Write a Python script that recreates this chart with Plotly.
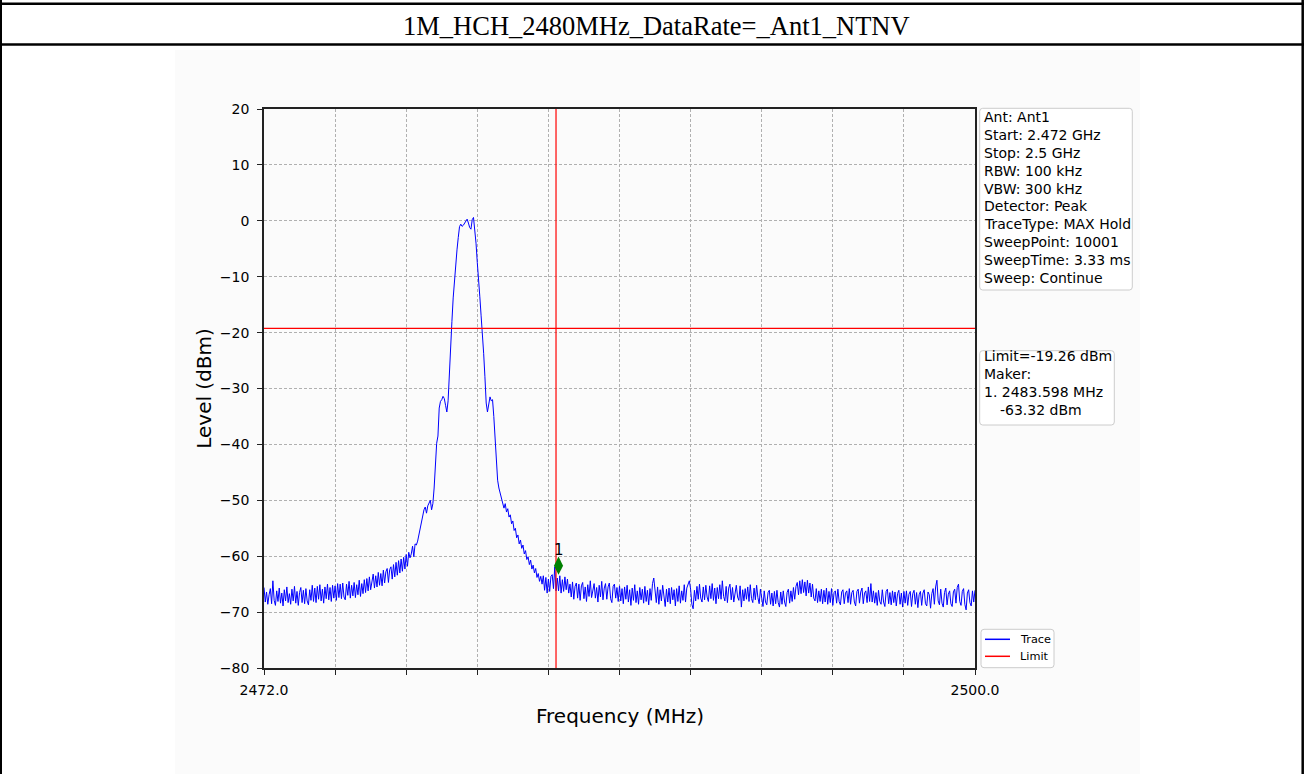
import numpy as np
import plotly.graph_objects as go

W, H = 1310, 774

# ---------------- data ----------------
START_MHZ = 2472.0
STOP_MHZ = 2500.0
LEVEL_DBM = [
    -65.6, -68.2, -66.4, -68.6, -66.9, -65.8, -68.5, -64.4, -67.9, -68.8, -66.2, -68.1, -65.7, -68.4, -66.6, -68.9, -66.0, -68.0, -65.5, -68.3,
    -66.7, -68.6, -65.9, -68.0, -65.4, -68.4, -66.3, -68.8, -66.5, -65.6, -68.3, -66.1, -68.5, -65.8, -68.0, -68.7, -66.0, -67.9, -65.2, -68.1,
    -65.7, -68.3, -65.4, -67.7, -65.1, -68.0, -65.9, -68.4, -65.5, -67.6, -65.0, -67.8, -65.6, -68.1, -65.2, -67.5, -65.3, -67.9, -64.9, -67.4,
    -65.0, -67.6, -64.8, -67.3, -67.8, -65.0, -67.0, -64.5, -67.5, -65.2, -67.1, -64.7, -67.4, -65.1, -66.9, -64.3, -67.2, -64.9, -66.7, -64.2,
    -66.5, -64.0, -66.2, -63.7, -66.0, -64.2, -63.2, -65.7, -63.5, -65.5, -62.9, -65.2, -63.1, -65.3, -62.5, -64.8, -62.8, -62.2, -64.7, -62.4,
    -61.9, -64.1, -61.5, -63.7, -61.1, -63.4, -60.8, -63.0, -60.5, -62.7, -60.2, -62.3, -59.7, -61.8, -59.3, -60.3, -59.6, -58.2, -60.1, -57.8,
    -58.0, -57.3, -56.2, -55.3, -53.8, -53.0, -51.7, -51.2, -52.3, -51.0, -50.6, -50.0, -51.7, -50.6, -47.8, -43.4, -39.8, -38.5, -33.5, -32.3,
    -32.0, -31.4, -31.8, -33.0, -34.2, -32.2, -26.5, -21.5, -18.0, -13.8, -10.5, -7.5, -5.2, -3.0, -1.05, -0.6, -1.0, -0.8, -0.5, 0.0,
    0.3, -0.4, -1.2, -1.5, 0.2, 0.6, -1.6, -4.0, -7.5, -10.0, -13.6, -17.0, -20.0, -23.7, -27.9, -32.6, -34.2, -32.6, -31.5, -32.2,
    -32.0, -35.0, -39.2, -43.0, -46.4, -47.8, -48.8, -50.0, -50.8, -51.4, -50.6, -52.1, -51.5, -53.0, -52.6, -54.2, -53.7, -55.4, -55.0, -56.7,
    -56.2, -57.8, -57.1, -58.6, -58.0, -59.6, -59.0, -60.6, -60.1, -61.5, -60.7, -62.3, -61.6, -63.0, -62.2, -63.8, -63.1, -64.5, -63.6, -65.0,
    -63.5, -66.1, -63.8, -66.6, -64.1, -66.3, -63.6, -63.3, -65.8, -61.9, -66.2, -63.9, -66.2, -63.5, -66.6, -64.2, -66.3, -63.7, -66.0, -64.1,
    -66.6, -65.0, -67.3, -64.6, -67.7, -65.4, -64.8, -67.5, -65.0, -67.9, -65.3, -64.7, -67.6, -65.5, -68.1, -65.1, -67.2, -64.4, -67.4, -66.0,
    -64.9, -67.5, -65.6, -68.2, -65.2, -67.3, -64.5, -67.8, -65.7, -64.9, -67.7, -65.5, -64.8, -67.6, -68.3, -65.4, -65.0, -67.5, -65.6, -68.1,
    -65.3, -68.0, -65.8, -68.5, -65.5, -67.7, -65.2, -68.2, -66.0, -68.8, -65.7, -67.9, -65.1, -68.3, -66.2, -68.6, -65.6, -67.8, -65.9, -68.4,
    -65.4, -68.1, -66.1, -68.7, -65.8, -67.9, -64.9, -63.9, -66.2, -68.3, -65.5, -68.6, -66.0, -68.0, -65.2, -67.7, -69.0, -65.9, -68.2, -65.7,
    -68.5, -65.6, -67.8, -66.0, -68.9, -65.8, -68.1, -65.3, -68.4, -66.2, -67.9, -65.1, -68.2, -65.7, -64.8, -64.4, -65.9, -68.6, -69.4, -66.1,
    -68.0, -65.4, -67.7, -65.0, -67.5, -68.2, -65.5, -67.8, -65.2, -67.3, -68.1, -65.3, -67.6, -64.9, -67.9, -65.7, -68.5, -65.6, -67.6, -65.1,
    -67.7, -64.4, -67.2, -68.0, -65.4, -68.3, -65.7, -65.0, -67.8, -65.6, -68.2, -66.1, -65.2, -67.3, -67.9, -65.3, -69.1, -66.0, -68.0, -65.8,
    -67.7, -65.5, -68.1, -65.1, -67.6, -68.3, -65.7, -67.8, -65.2, -67.4, -68.5, -65.9, -68.0, -69.0, -66.2, -68.2, -68.7, -66.5, -66.1, -68.6,
    -66.6, -68.9, -66.3, -68.5, -66.1, -68.3, -69.1, -66.4, -68.6, -66.2, -68.2, -69.0, -66.5, -65.9, -68.4, -66.2, -68.1, -65.6, -67.7, -65.4,
    -64.7, -66.9, -64.4, -66.7, -64.2, -66.5, -64.6, -67.1, -64.3, -66.6, -64.8, -67.3, -65.0, -67.5, -68.0, -65.8, -68.3, -66.2, -68.1, -65.9,
    -68.5, -66.1, -68.2, -65.7, -68.6, -66.3, -68.3, -65.8, -68.8, -66.5, -66.2, -68.4, -65.9, -68.1, -68.7, -66.4, -66.0, -68.5, -66.6, -66.2,
    -68.3, -65.8, -68.6, -66.5, -66.1, -68.2, -68.9, -66.3, -65.9, -68.4, -66.4, -65.7, -68.5, -66.6, -66.2, -68.3, -65.5, -68.1, -64.9, -68.2,
    -66.2, -68.4, -66.5, -68.8, -66.1, -68.1, -68.6, -66.0, -68.2, -69.0, -66.3, -65.9, -68.5, -66.5, -68.7, -66.2, -68.3, -66.4, -68.9, -66.7,
    -66.1, -68.6, -66.6, -69.1, -66.3, -68.4, -66.2, -68.8, -66.8, -66.3, -69.0, -66.7, -66.1, -68.6, -66.5, -69.2, -66.9, -66.3, -68.8, -66.6,
    -66.0, -68.5, -68.9, -66.4, -66.9, -69.3, -66.7, -65.8, -68.6, -65.5, -64.3, -68.0, -68.7, -65.9, -68.4, -69.1, -66.5, -65.7, -68.7, -66.8,
    -66.2, -68.5, -69.0, -66.4, -65.9, -68.4, -65.6, -65.0, -68.1, -68.8, -66.3, -65.8, -68.6, -69.6, -66.6, -66.0, -68.3, -68.9, -66.2, -68.2,
    -66.1,
]
LIMIT_DBM = -19.26
EDGE_MHZ = 2483.5
MARKER_MHZ = 2483.598
MARKER_DBM = -61.7

X_TICKS = [2472.0, 2474.8, 2477.6, 2480.4, 2483.2, 2486.0, 2488.8, 2491.6, 2494.4, 2497.2, 2500.0]
X_TICK_TEXT = ["2472.0", "", "", "", "", "", "", "", "", "", "2500.0"]
Y_TICKS = [20, 10, 0, -10, -20, -30, -40, -50, -60, -70, -80]
Y_TICK_TEXT = ["20", "10", "0", "\u221210", "\u221220", "\u221230", "\u221240",
               "\u221250", "\u221260", "\u221270", "\u221280"]

TITLE = "1M_HCH_2480MHz_DataRate=_Ant1_NTNV"
INFO_LINES = ["Ant: Ant1", "Start: 2.472 GHz", "Stop: 2.5 GHz", "RBW: 100 kHz",
              "VBW: 300 kHz", "Detector: Peak", "TraceType: MAX Hold",
              "SweepPoint: 10001", "SweepTime: 3.33 ms", "Sweep: Continue"]
MARK_LINES = ["Limit=-19.26 dBm", "Maker:", "1. 2483.598 MHz", "-63.32 dBm"]
LEGEND_NAMES = ["Trace", "Limit"]

freq = np.linspace(START_MHZ, STOP_MHZ, len(LEVEL_DBM))

# ---------------- helpers (pixel -> paper) ----------------
def px(x):
    return x / W

def py(y):
    return 1 - y / H

def rrect(x0, y0, x1, y1, r, color="#cccccc", fill="white"):
    p = (f"M {px(x0 + r)},{py(y0)} L {px(x1 - r)},{py(y0)} Q {px(x1)},{py(y0)} {px(x1)},{py(y0 + r)} "
         f"L {px(x1)},{py(y1 - r)} Q {px(x1)},{py(y1)} {px(x1 - r)},{py(y1)} "
         f"L {px(x0 + r)},{py(y1)} Q {px(x0)},{py(y1)} {px(x0)},{py(y1 - r)} "
         f"L {px(x0)},{py(y0 + r)} Q {px(x0)},{py(y0)} {px(x0 + r)},{py(y0)} Z")
    return dict(type="path", path=p, xref="paper", yref="paper",
                line=dict(color=color, width=1), fillcolor=fill, layer="above")

def hline(x0, x1, y, color, width):
    return dict(type="line", xref="paper", yref="paper", x0=px(x0), x1=px(x1),
                y0=py(y), y1=py(y), line=dict(color=color, width=width))

def vline(x, y0, y1, color, width):
    return dict(type="line", xref="paper", yref="paper", x0=px(x), x1=px(x),
                y0=py(y0), y1=py(y1), line=dict(color=color, width=width))

SANS = "DejaVu Sans"
TXT = "#000000"

fig = go.Figure()
fig.add_trace(go.Scatter(x=freq, y=LEVEL_DBM, mode="lines", name=LEGEND_NAMES[0],
                         line=dict(color="#0000ff", width=1), showlegend=False))
fig.add_trace(go.Scatter(x=[START_MHZ, STOP_MHZ], y=[LIMIT_DBM, LIMIT_DBM], mode="lines",
                         name=LEGEND_NAMES[1], line=dict(color="#ff0000", width=1.2), showlegend=False))
fig.add_trace(go.Scatter(x=[EDGE_MHZ, EDGE_MHZ], y=[Y_TICKS[-1], Y_TICKS[0]], mode="lines",
                         line=dict(color="#ff0000", width=1.2), showlegend=False))
fig.add_trace(go.Scatter(x=[MARKER_MHZ], y=[MARKER_DBM], mode="markers",
                         marker=dict(symbol="diamond-tall", size=13, color="#008000",
                                     line=dict(width=0)), showlegend=False))

shapes = [
    dict(type="rect", xref="paper", yref="paper", x0=px(175), x1=px(1140), y0=py(50), y1=0,
         fillcolor="#fbfbfb", line=dict(width=0), layer="below"),
    hline(0, 1304, 3.7, "#000000", 2.5),
    hline(0, 1304, 44.5, "#000000", 2.5),
    vline(1, 0, 774, "#000000", 2),
    vline(1302.7, 0, 774, "#000000", 2.5),
    rrect(979.7, 108.3, 1132.3, 290, 3),
    rrect(979.7, 350.7, 1114.3, 425, 3),
    rrect(981, 629.3, 1054, 667.7, 3),
    hline(985, 1010, 639.3, "#0000ff", 1.5),
    hline(985, 1010, 656.3, "#ff0000", 1.5),
]

ann = []
ann.append(dict(text=TITLE, x=px(656.5), y=py(26), xref="paper", yref="paper",
                xanchor="center", yanchor="middle", showarrow=False,
                font=dict(family="Liberation Serif", size=26.5, color="#000000")))
for k, t in enumerate(INFO_LINES):
    ann.append(dict(text=t, x=px(982), y=py(117.0 + k * 17.9), xref="paper", yref="paper",
                    xanchor="left", yanchor="middle", showarrow=False,
                    font=dict(family=SANS, size=14, color=TXT)))
for k, t in enumerate(MARK_LINES):
    xx = 998 if k == 3 else 982
    ann.append(dict(text=t, x=px(xx), y=py(356.4 + k * 18.0), xref="paper", yref="paper",
                    xanchor="left", yanchor="middle", showarrow=False,
                    font=dict(family=SANS, size=14, color=TXT)))
for k, t in enumerate(LEGEND_NAMES):
    ann.append(dict(text=t, x=px(1018), y=py(639.3 + k * 17), xref="paper", yref="paper",
                    xanchor="left", yanchor="middle", showarrow=False,
                    font=dict(family=SANS, size=11.3, color=TXT)))
ann.append(dict(text="Frequency (MHz)", x=px(619.5), y=py(716), xref="paper", yref="paper",
                xanchor="center", yanchor="middle", showarrow=False,
                font=dict(family=SANS, size=20, color=TXT)))
ann.append(dict(text="Level (dBm)", x=px(203.3), y=py(388.5), xref="paper", yref="paper",
                xanchor="center", yanchor="middle", showarrow=False, textangle=-90,
                font=dict(family=SANS, size=20, color=TXT)))
ann.append(dict(text="1", x=MARKER_MHZ, y=MARKER_DBM, xref="x", yref="y",
                xanchor="center", yanchor="bottom", yshift=5, showarrow=False,
                font=dict(family=SANS, size=15, color=TXT)))

axis_common = dict(showline=True, linecolor="#222222", linewidth=1.6, mirror=True,
                   ticks="outside", ticklen=5, tickwidth=1.2, tickcolor="#222222",
                   showgrid=True, gridcolor="#b0b0b0", gridwidth=0.8, griddash="3px,2px",
                   zeroline=False, tickfont=dict(family=SANS, size=14, color=TXT))

fig.update_layout(
    width=W, height=H,
    margin=dict(l=0, r=0, t=0, b=0, autoexpand=False),
    paper_bgcolor="#ffffff", plot_bgcolor="#ffffff",
    showlegend=False,
    xaxis=dict(domain=[px(264), px(975)], range=[START_MHZ, STOP_MHZ],
               tickmode="array", tickvals=X_TICKS, ticktext=X_TICK_TEXT,
               ticklabelstandoff=3, **axis_common),
    yaxis=dict(domain=[py(668), py(109)], range=[Y_TICKS[-1], Y_TICKS[0]],
               tickmode="array", tickvals=Y_TICKS, ticktext=Y_TICK_TEXT,
               ticklabelstandoff=5, **axis_common),
    shapes=shapes, annotations=ann,
)

fig.write_html("out.html", config={"displayModeBar": False},
               post_script="document.body.style.margin='0';document.body.style.padding='0';")
